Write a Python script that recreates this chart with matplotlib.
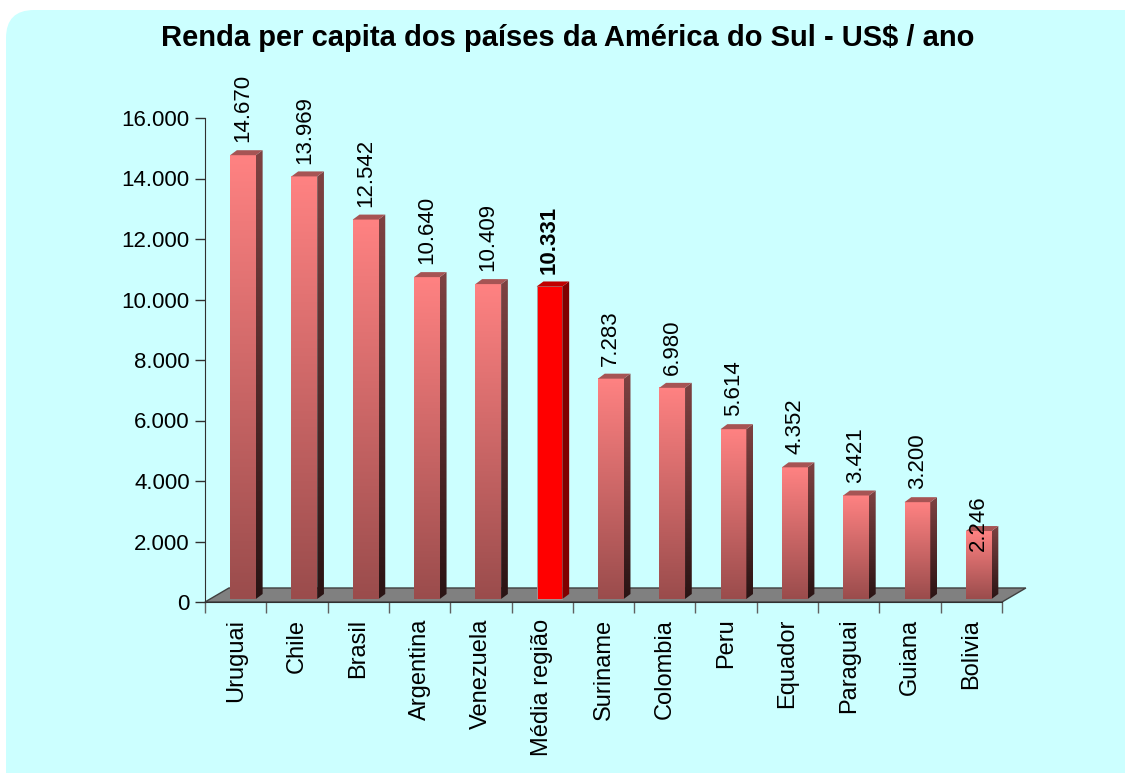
import numpy as np
import matplotlib
matplotlib.use('Agg')
import matplotlib.pyplot as plt
from matplotlib.patches import Polygon, FancyBboxPatch
from matplotlib.colors import LinearSegmentedColormap

plt.rcParams['font.family'] = ['Liberation Sans', 'DejaVu Sans']

# data
paises = ['Uruguai', 'Chile', 'Brasil', 'Argentina', 'Venezuela', 'Média região',
          'Suriname', 'Colombia', 'Peru', 'Equador', 'Paraguai', 'Guiana', 'Bolivia']
renda = [14670, 13969, 12542, 10640, 10409, 10331,
         7283, 6980, 5614, 4352, 3421, 3200, 2246]
destaque = 'Média região'
y_ticks = [0, 2000, 4000, 6000, 8000, 10000, 12000, 14000, 16000]
titulo = 'Renda per capita dos países da América do Sul - US$ / ano'

def fmt(v):
    return '{:,}'.format(v).replace(',', '.')

fig = plt.figure(figsize=(11.25, 7.73), dpi=100, facecolor='white')

# background box with rounded corners
bg = fig.add_axes([0, 0, 1, 1])
bg.set_xlim(0, 1125)
bg.set_ylim(773, 0)
bg.axis('off')
bg.add_patch(FancyBboxPatch((6, 10), 1200, 900,
                            boxstyle='round,pad=0,rounding_size=28',
                            facecolor='#CCFFFF', edgecolor='none'))

ax = fig.add_axes([205 / 1125, 171 / 773, 797 / 1125, 484 / 773])
ax.patch.set_visible(False)

n = len(paises)
x0_off, x1_off = 0.41, 0.83   # front face within category
ddx, ddy = 0.11, 165          # bar depth
fdx, fdy = 0.39, 463          # floor depth
base = 100                    # bars stand slightly behind the floor edge

# floor
floor = Polygon([(0, 0), (n, 0), (n + fdx, fdy), (fdx, fdy)], closed=True,
                facecolor='#808080', edgecolor='#404040', lw=1,
                clip_on=False, zorder=1)
ax.add_patch(floor)

cm_front = LinearSegmentedColormap.from_list('front', ['#9A4C4C', '#FF8282'])
cm_side = LinearSegmentedColormap.from_list('side', ['#2A1414', '#7E4242'])
grad = np.linspace(0, 1, 256).reshape(-1, 1)

for i, (p, v) in enumerate(zip(paises, renda)):
    x0 = i + x0_off
    x1 = i + x1_off
    y0 = base
    y1 = v + base
    side = Polygon([(x1, y0), (x1 + ddx, y0 + ddy), (x1 + ddx, y1 + ddy), (x1, y1)],
                   closed=True, facecolor='none', edgecolor='none')
    top = Polygon([(x0, y1), (x1, y1), (x1 + ddx, y1 + ddy), (x0 + ddx, y1 + ddy)],
                  closed=True, edgecolor='none', zorder=3)
    if p == destaque:
        ax.add_patch(Polygon([(x0, y0), (x1, y0), (x1, y1), (x0, y1)], closed=True,
                             facecolor='#FF0000', edgecolor='#A0A0A0', lw=0.6, zorder=3))
        side.set_facecolor('#800000')
        side.set_zorder(3)
        ax.add_patch(side)
        top.set_facecolor('#C00000')
        ax.add_patch(top)
    else:
        ax.imshow(grad, cmap=cm_front, origin='lower', aspect='auto',
                  extent=(x0, x1, y0, y1), zorder=3)
        ax.add_patch(side)
        im = ax.imshow(grad, cmap=cm_side, origin='lower', aspect='auto',
                       extent=(x1, x1 + ddx, y0, y1 + ddy), zorder=3)
        im.set_clip_path(side)
        top.set_facecolor('#A65454')
        ax.add_patch(top)

    # value labels
    if i == n - 1:
        ax.text(i + 0.62, y1 + ddy + 80, fmt(v), rotation=90, ha='center',
                va='center', fontsize=16, zorder=5)
    else:
        ax.text(i + 0.62, y1 + ddy + 260, fmt(v), rotation=90, ha='center',
                va='bottom', fontsize=16, zorder=5,
                fontweight='bold' if p == destaque else 'normal')

ax.set_xlim(0, n)
ax.set_ylim(0, 16000)

# axes
ax.spines['top'].set_visible(False)
ax.spines['right'].set_visible(False)
ax.spines['left'].set_color('#303030')
ax.spines['bottom'].set_color('#303030')
ax.spines['bottom'].set_zorder(4)

ax.set_yticks(y_ticks)
ax.set_yticklabels([fmt(t) for t in y_ticks], fontsize=16)
ax.tick_params(axis='y', direction='out', length=7, width=1, color='#303030', pad=4)

ax.set_xticks(np.arange(n + 1))
ax.set_xticklabels([])
ax.set_xticks(np.arange(n) + 0.5, minor=True)
ax.set_xticklabels(paises, minor=True, rotation=90, fontsize=17, va='top', ha='center')
ax.tick_params(axis='x', which='major', direction='out', length=8, width=1, color='#606060')
ax.tick_params(axis='x', which='minor', length=0, pad=12)

fig.text(568 / 1125, 1 - 38 / 773, titulo, ha='center', va='center',
         fontsize=21, fontweight='bold')

fig.savefig('out.png', dpi=100, facecolor='white')
